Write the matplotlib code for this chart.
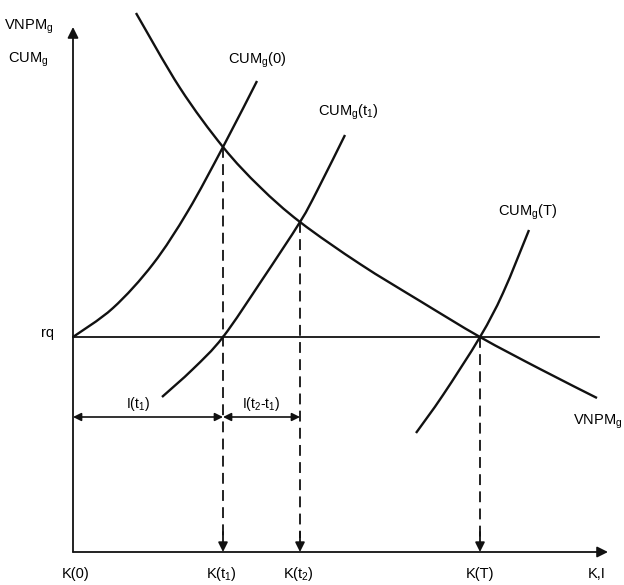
import matplotlib
matplotlib.use("Agg")
import matplotlib.pyplot as plt
import numpy as np
from matplotlib.path import Path
from matplotlib.patches import PathPatch

plt.rcParams['font.family'] = ['Liberation Sans', 'DejaVu Sans']
plt.rcParams['mathtext.fontset'] = 'custom'
plt.rcParams['mathtext.rm'] = 'Liberation Sans'
plt.rcParams['mathtext.it'] = 'Liberation Sans:italic'

# ---- data (x: capital K, y: value) ----
rq = 215
vnpm_x = [63, 107, 150, 187, 227, 287, 347, 407, 467, 524]
vnpm_y = [539, 464, 405, 365, 330, 288, 251, 215, 183, 154]
cum0_x = [0, 40, 80, 115, 150, 184]
cum0_y = [215, 244, 288, 341, 405, 471]
cumt1_x = [89, 120, 150, 189, 227, 244, 272]
cumt1_y = [155, 183, 215, 272, 330, 361, 417]
cumT_x = [343, 370, 407, 430, 456]
cumT_y = [119, 157, 215, 259, 322]
k_marks = [150, 227, 407]
k_labels = ['K(t$_\\mathrm{1}$)', 'K(t$_\\mathrm{2}$)', 'K(T)']
inv_y = 135
inv_labels = ['I(t$_\\mathrm{1}$)', 'I(t$_\\mathrm{2}$-t$_\\mathrm{1}$)']

fig = plt.figure(figsize=(6.24, 5.85), dpi=100)
ax = fig.add_axes([0, 0, 1, 1])
ax.set_xlim(-73, 551)
ax.set_ylim(-33, 552)
ax.axis('off')

INK = '#111111'


def smooth_path(xs, ys):
    p = np.column_stack([xs, ys]).astype(float)
    verts = [p[0]]
    codes = [Path.MOVETO]
    n = len(p)
    for i in range(n - 1):
        p0 = p[i - 1] if i > 0 else p[i]
        p1 = p[i]
        p2 = p[i + 1]
        p3 = p[i + 2] if i + 2 < n else p[i + 1]
        c1 = p1 + (p2 - p0) / 6.0
        c2 = p2 - (p3 - p1) / 6.0
        verts += [c1, c2, p2]
        codes += [Path.CURVE4] * 3
    return Path(verts, codes)


for xs, ys in [(vnpm_x, vnpm_y), (cum0_x, cum0_y), (cumt1_x, cumt1_y), (cumT_x, cumT_y)]:
    ax.add_patch(PathPatch(smooth_path(xs, ys), fill=False, lw=1.7, color=INK,
                           capstyle='butt'))

# rq line
ax.plot([0, 526], [rq, rq], color=INK, lw=1.3)

# axes with arrows
ax.annotate('', xy=(0, 525), xytext=(0, 0),
            arrowprops=dict(arrowstyle='-|>', lw=1.3, color=INK, mutation_scale=16,
                            shrinkA=0, shrinkB=0))
ax.annotate('', xy=(535, 0), xytext=(0, 0),
            arrowprops=dict(arrowstyle='-|>', lw=1.3, color=INK, mutation_scale=16,
                            shrinkA=0, shrinkB=0))

# dashed verticals at intersections
tops = [405, 330, 215]
for xk, yt in zip(k_marks, tops):
    ax.plot([xk, xk], [yt, 14], color=INK, lw=1.3, dashes=(6, 3.5))
    ax.annotate('', xy=(xk, 0), xytext=(xk, 20),
                arrowprops=dict(arrowstyle='-|>', lw=1.3, color=INK, mutation_scale=14,
                                shrinkA=0, shrinkB=0))

# investment double arrows
bounds = [(0, k_marks[0]), (k_marks[0], k_marks[1])]
for (a, b), lab in zip(bounds, inv_labels):
    ax.annotate('', xy=(b, inv_y), xytext=(a, inv_y),
                arrowprops=dict(arrowstyle='<|-|>', lw=1.2, color=INK, mutation_scale=12,
                                shrinkA=0, shrinkB=0))
    ax.text((a + b) / 2 - (10 if a == 0 else 0), inv_y + 13, lab, ha='center', va='center',
            fontsize=10)

fs = 10.5
# axis labels
ax.text(-44, 525, 'VNPM$_\\mathrm{g}$', ha='center', va='center', fontsize=fs)
ax.text(-45, 492, 'CUM$_\\mathrm{g}$', ha='center', va='center', fontsize=fs)
ax.text(-25, 219, 'rq', ha='center', va='center', fontsize=fs)

# curve labels
ax.text(184, 492, 'CUM$_\\mathrm{g}$(0)', ha='center', va='center', fontsize=fs)
ax.text(275, 440, 'CUM$_\\mathrm{g}$(t$_\\mathrm{1}$)', ha='center', va='center', fontsize=fs)
ax.text(455, 340, 'CUM$_\\mathrm{g}$(T)', ha='center', va='center', fontsize=fs)
ax.text(525, 130, 'VNPM$_\\mathrm{g}$', ha='center', va='center', fontsize=fs)

# bottom labels
ax.text(3, -22, 'K(0)', ha='center', va='center', fontsize=fs)
for xk, lab in zip(k_marks, k_labels):
    ax.text(xk - 2 + (2 if xk == 407 else 0), -22, lab, ha='center', va='center', fontsize=fs)
ax.text(524, -22, 'K,I', ha='center', va='center', fontsize=fs)

fig.savefig('out.png', dpi=100)
